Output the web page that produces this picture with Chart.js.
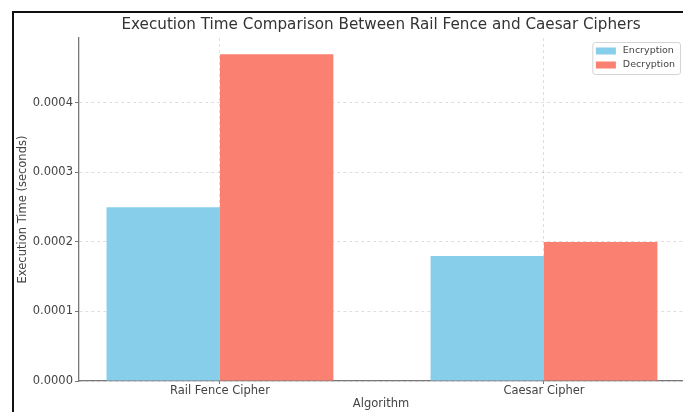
<!DOCTYPE html>
<html>
<head>
<meta charset="utf-8">
<script src="https://cdn.jsdelivr.net/npm/chart.js@4.4.1/dist/chart.umd.min.js"></script>
<style>
  html, body { margin: 0; padding: 0; background: #fff; overflow: hidden; }
  #wrap { position: relative; width: 683px; height: 412px; }
  #frame { position: absolute; left: 12px; top: 11px; right: 0; bottom: 0;
           border-left: 2px solid #111; border-top: 2px solid #111; }
  canvas { position: absolute; left: 0; top: 0; }
</style>
</head>
<body>
<div id="wrap">
  <div id="frame"></div>
  <canvas id="c" width="683" height="412"></canvas>
</div>
<script>
// ---- data ----
const categories = ['Rail Fence Cipher', 'Caesar Cipher'];
const seriesNames = ['Encryption', 'Decryption'];
const encryptionTimes = [0.00025, 0.00018];
const decryptionTimes = [0.00047, 0.00020];
const yTickValues = [0, 0.0001, 0.0002, 0.0003, 0.0004];
const yMax = 0.0004935;

const FONT = '"DejaVu Sans", "Liberation Sans", sans-serif';
const GRID = 'rgba(0,0,0,0.13)';
const AXIS = '#777';
const TXT = '#444';
const FS = 11.5;

const boxLegend = {
  id: 'boxLegend',
  afterDraw(chart) {
    const { ctx, chartArea } = chart;
    const ds = chart.data.datasets;
    ctx.save();
    ctx.font = '9.5px ' + FONT;
    const textW = Math.max(...ds.map(d => ctx.measureText(d.label).width));
    const sw = 20, sh = 7, gap = 7, padL = 3.5, padR = 5, padV = 2, rowH = 14;
    const w = padL + sw + gap + textW + padR;
    const h = padV * 2 + rowH * ds.length;
    const x = chartArea.right - 3 - w;
    const y = chartArea.top + 4;
    ctx.beginPath();
    ctx.roundRect(x + 0.5, y + 0.5, w, h, 2.5);
    ctx.fillStyle = 'rgba(255,255,255,0.8)';
    ctx.fill();
    ctx.strokeStyle = '#d4d4d4';
    ctx.lineWidth = 1;
    ctx.stroke();
    ds.forEach((d, i) => {
      const cy = y + padV + rowH * i + rowH / 2;
      ctx.fillStyle = d.backgroundColor;
      ctx.fillRect(x + padL, cy - sh / 2, sw, sh);
      ctx.fillStyle = TXT;
      ctx.textBaseline = 'middle';
      ctx.textAlign = 'left';
      ctx.fillText(d.label, x + padL + sw + gap, cy);
    });
    ctx.restore();
  }
};

new Chart(document.getElementById('c'), {
  type: 'bar',
  data: {
    datasets: [
      {
        label: seriesNames[0],
        data: categories.map((c, i) => ({ x: i, y: encryptionTimes[i] })),
        backgroundColor: '#87CEEB',
        borderWidth: 0,
        categoryPercentage: 0.7,
        barPercentage: 1.0
      },
      {
        label: seriesNames[1],
        data: categories.map((c, i) => ({ x: i, y: decryptionTimes[i] })),
        backgroundColor: '#FA8072',
        borderWidth: 0,
        categoryPercentage: 0.7,
        barPercentage: 1.0
      }
    ]
  },
  options: {
    responsive: false,
    animation: false,
    devicePixelRatio: 1,
    layout: { padding: 0 },
    plugins: {
      legend: { display: false },
      tooltip: { enabled: false },
      title: {
        display: true,
        fullSize: false,
        text: 'Execution Time Comparison Between Rail Fence and Caesar Ciphers',
        color: '#333',
        font: { family: FONT, size: 15.2, weight: 'normal' },
        padding: { top: 15.9, bottom: 3.86 }
      }
    },
    scales: {
      x: {
        type: 'linear',
        offset: false,
        bounds: 'data',
        min: -0.435,
        max: 1.429,
        afterBuildTicks: s => { s.ticks = categories.map((c, i) => ({ value: i })); },
        ticks: {
          callback: v => categories[v],
          autoSkip: false, maxRotation: 0, minRotation: 0,
          color: TXT, padding: 0,
          font: { family: FONT, size: FS }
        },
        grid: { color: GRID, offset: false, tickColor: AXIS, tickLength: 3, tickBorderDash: [] },
        border: { color: AXIS, width: 1.3, dash: [3, 3] },
        title: {
          display: true, text: 'Algorithm', color: TXT,
          font: { family: FONT, size: FS },
          padding: { top: 0, bottom: 0.6 }
        },
        afterFit: s => { s.height = 31; s.paddingLeft = 0; s.paddingRight = 0; }
      },
      y: {
        min: 0,
        max: yMax,
        bounds: 'data',
        afterBuildTicks: s => { s.ticks = yTickValues.map(v => ({ value: v })); },
        ticks: {
          callback: v => Number(v).toFixed(4),
          color: TXT, padding: 2,
          font: { family: FONT, size: FS }
        },
        grid: { color: GRID, tickColor: AXIS, tickLength: 4, tickBorderDash: [] },
        border: { color: AXIS, width: 1.3, dash: [3, 3] },
        title: {
          display: true, text: 'Execution Time (seconds)', color: TXT,
          font: { family: FONT, size: FS },
          padding: { top: 16, bottom: 0 }
        },
        afterFit: s => { s.width = 79; s.paddingTop = 0; s.paddingBottom = 0; }
      }
    }
  },
  plugins: [boxLegend]
});
</script>
</body>
</html>
